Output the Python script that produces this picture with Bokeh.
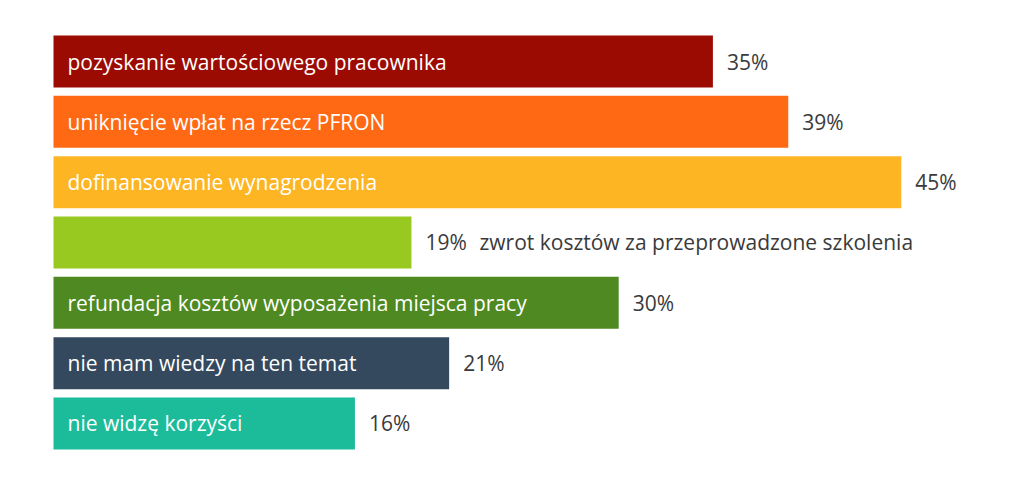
from bokeh.plotting import figure
from bokeh.models import Range1d, ColumnDataSource
from bokeh.core.properties import value
from bokeh.embed import file_html
from bokeh.resources import INLINE

categories = [
    "pozyskanie wartościowego pracownika",
    "uniknięcie wpłat na rzecz PFRON",
    "dofinansowanie wynagrodzenia",
    "zwrot kosztów za przeprowadzone szkolenia",
    "refundacja kosztów wyposażenia miejsca pracy",
    "nie mam wiedzy na ten temat",
    "nie widzę korzyści",
]
values = [35, 39, 45, 19, 30, 21, 16]
colors = ["#9B0B02", "#FF6914", "#FDB524", "#98C920", "#4E8A21", "#34495E", "#1CBC9B"]
label_inside = [True, True, True, False, True, True, True]

idx = list(range(len(values)))
px_per_unit = 18.84
left_px = 53
W, H = 1024, 483
FONT = value("Open Sans")
FS = "21px"

p = figure(width=W, height=H, output_backend="svg", toolbar_location=None,
           x_range=Range1d(-left_px / px_per_unit, (W - left_px) / px_per_unit),
           y_range=Range1d((H - 61) / 60.33, -61 / 60.33),
           min_border=0, outline_line_color=None)
p.axis.visible = False
p.grid.visible = False
p.background_fill_color = "white"
p.border_fill_color = "white"

src = ColumnDataSource(dict(y=idx, v=values, c=colors))
p.hbar(y="y", left=0, right="v", height=0.862, fill_color="c", line_color=None, source=src)

off = 14 / px_per_unit
pct_x = [v + off for v in values]
pct_t = [f"{v}%" for v in values]
p.text(x=pct_x, y=idx, text=pct_t, text_font=FONT, text_font_size=FS,
       text_color="#3a3a3a", text_baseline="middle", text_align="left")

in_x, in_y, in_t = [], [], []
out_x, out_y, out_t = [], [], []
for i, (c, v, ins) in enumerate(zip(categories, values, label_inside)):
    if ins:
        in_x.append(14 / px_per_unit); in_y.append(i); in_t.append(c)
    else:
        out_x.append(v + off + 54 / px_per_unit); out_y.append(i); out_t.append(c)
p.text(x=in_x, y=in_y, text=in_t, text_font=FONT, text_font_size=FS,
       text_color="white", text_baseline="middle", text_align="left")
p.text(x=out_x, y=out_y, text=out_t, text_font=FONT, text_font_size=FS,
       text_color="#3a3a3a", text_baseline="middle", text_align="left")

open("out.html", "w").write(file_html(p, INLINE))
